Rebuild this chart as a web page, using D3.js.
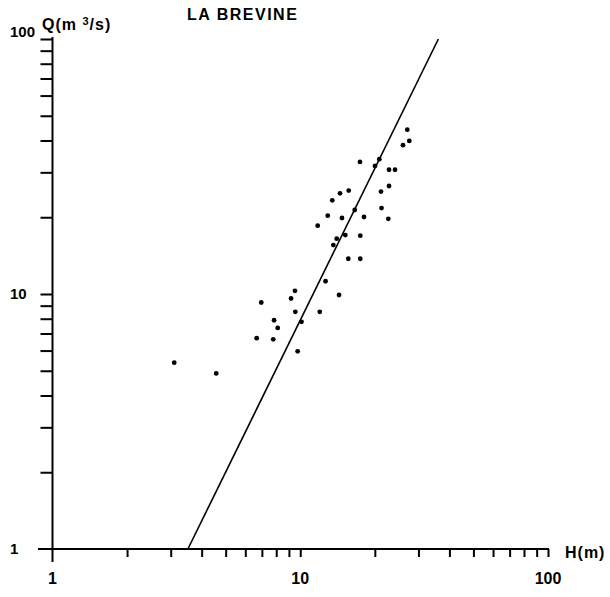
<!DOCTYPE html>
<html>
<head>
<meta charset="utf-8">
<script src="https://cdn.jsdelivr.net/npm/d3@7/dist/d3.min.js"></script>
<style>
  html, body { margin: 0; padding: 0; background: #fff; }
  svg { display: block; }
  text { font-family: "Liberation Sans", Arial, sans-serif; font-weight: bold; fill: #000; }
</style>
</head>
<body>
<svg id="chart" width="610" height="597"></svg>
<script>
// Station title and axis names
const title = "LA BREVINE";
const xName = "H(m)";

// Observed head H (m) and discharge Q (m3/s)
const H = [3.10, 4.58, 6.67, 7.78, 6.96, 7.84, 8.11, 9.52, 9.18, 9.55, 9.76, 10.12,
           11.99, 12.65, 14.34, 11.76, 12.91, 13.47, 14.47, 15.69, 14.74, 16.59,
           14.03, 13.60, 15.20, 17.47, 18.08, 15.63, 17.47, 17.42, 20.03, 22.82,
           24.13, 21.18, 22.82, 21.28, 22.67, 25.98, 27.55, 27.04, 20.85];
const Q = [5.38, 4.88, 6.71, 6.64, 9.26, 7.89, 7.36, 10.29, 9.60, 8.51, 5.96, 7.78,
           8.51, 11.22, 9.91, 18.53, 20.29, 23.30, 24.83, 25.44, 19.86, 21.35,
           16.48, 15.55, 17.02, 16.93, 20.04, 13.75, 13.75, 32.96, 31.78, 30.71,
           30.71, 25.21, 26.52, 21.72, 19.71, 38.33, 39.85, 44.11, 33.77];

// Fitted power-law relation, drawn between its two end points
const fitH = [3.52, 36.1];
const fitQ = [1, 100];

// Tick positions and labelled decades
const minorTicks = [1,2,3,4,5,6,7,8,9,10,20,30,40,50,60,70,80,90,100];
const xTickLabels = ["1", "10", "100"];
const yTickLabels = ["1", "10", "100"];

const svg = d3.select("#chart");

const x = d3.scaleLog().domain([1, 100]).range([52.5, 548]);
const y = d3.scaleLog().domain([1, 100]).range([549, 39]);

// Axis lines (x line runs slightly past the origin, y line drops below it)
svg.append("line")
  .attr("x1", 38).attr("x2", 549).attr("y1", y(1)).attr("y2", y(1))
  .attr("stroke", "#000").attr("stroke-width", 2);
svg.append("line")
  .attr("x1", x(1)).attr("x2", x(1)).attr("y1", 37).attr("y2", 562)
  .attr("stroke", "#000").attr("stroke-width", 2);

// Tick marks
const xAxis = d3.axisBottom(x).tickValues(minorTicks.slice(1)).tickSize(8).tickFormat("");
const gx = svg.append("g").attr("transform", `translate(0,${y(1)})`).call(xAxis);
gx.select(".domain").remove();
gx.selectAll(".tick line").attr("stroke-width", 2);

const yAxis = d3.axisLeft(y).tickValues(minorTicks.slice(1)).tickSize(12).tickFormat("");
const gy = svg.append("g").attr("transform", `translate(${x(1)},0)`).call(yAxis);
gy.select(".domain").remove();
gy.selectAll(".tick line").attr("stroke-width", 2);

// Tick labels
svg.selectAll(".xlab").data(xTickLabels).enter().append("text")
  .attr("class", "xlab")
  .attr("x", d => x(+d))
  .attr("y", 584)
  .attr("text-anchor", "middle")
  .attr("font-size", 16)
  .text(d => d);

svg.selectAll(".ylab").data(yTickLabels).enter().append("text")
  .attr("class", "ylab")
  .attr("x", 10)
  .attr("y", d => +d === 100 ? 37 : y(+d) + 5)
  .attr("text-anchor", "start")
  .attr("font-size", 15)
  .text(d => d);

// Axis names and title
const qLab = svg.append("text").attr("x", 42).attr("y", 30)
  .attr("font-size", 16).attr("letter-spacing", 1);
qLab.append("tspan").text("Q(m ");
qLab.append("tspan").attr("font-size", 11).attr("dy", -5).text("3");
qLab.append("tspan").attr("dy", 5).text("/s)");

svg.append("text").attr("x", 565).attr("y", 558).attr("font-size", 16)
  .attr("letter-spacing", 1).text(xName);

svg.append("text").attr("x", 187).attr("y", 20).attr("font-size", 16)
  .attr("letter-spacing", 1.5).text(title);

// Fitted line
svg.append("path")
  .datum(fitH.map((h, i) => [h, fitQ[i]]))
  .attr("d", d3.line().x(d => x(d[0])).y(d => y(d[1])))
  .attr("fill", "none").attr("stroke", "#000").attr("stroke-width", 1.6);

// Observations
svg.selectAll(".obs").data(H.map((h, i) => [h, Q[i]])).enter().append("circle")
  .attr("class", "obs")
  .attr("cx", d => x(d[0]))
  .attr("cy", d => y(d[1]))
  .attr("r", 2.4)
  .attr("fill", "#000");
</script>
</body>
</html>
